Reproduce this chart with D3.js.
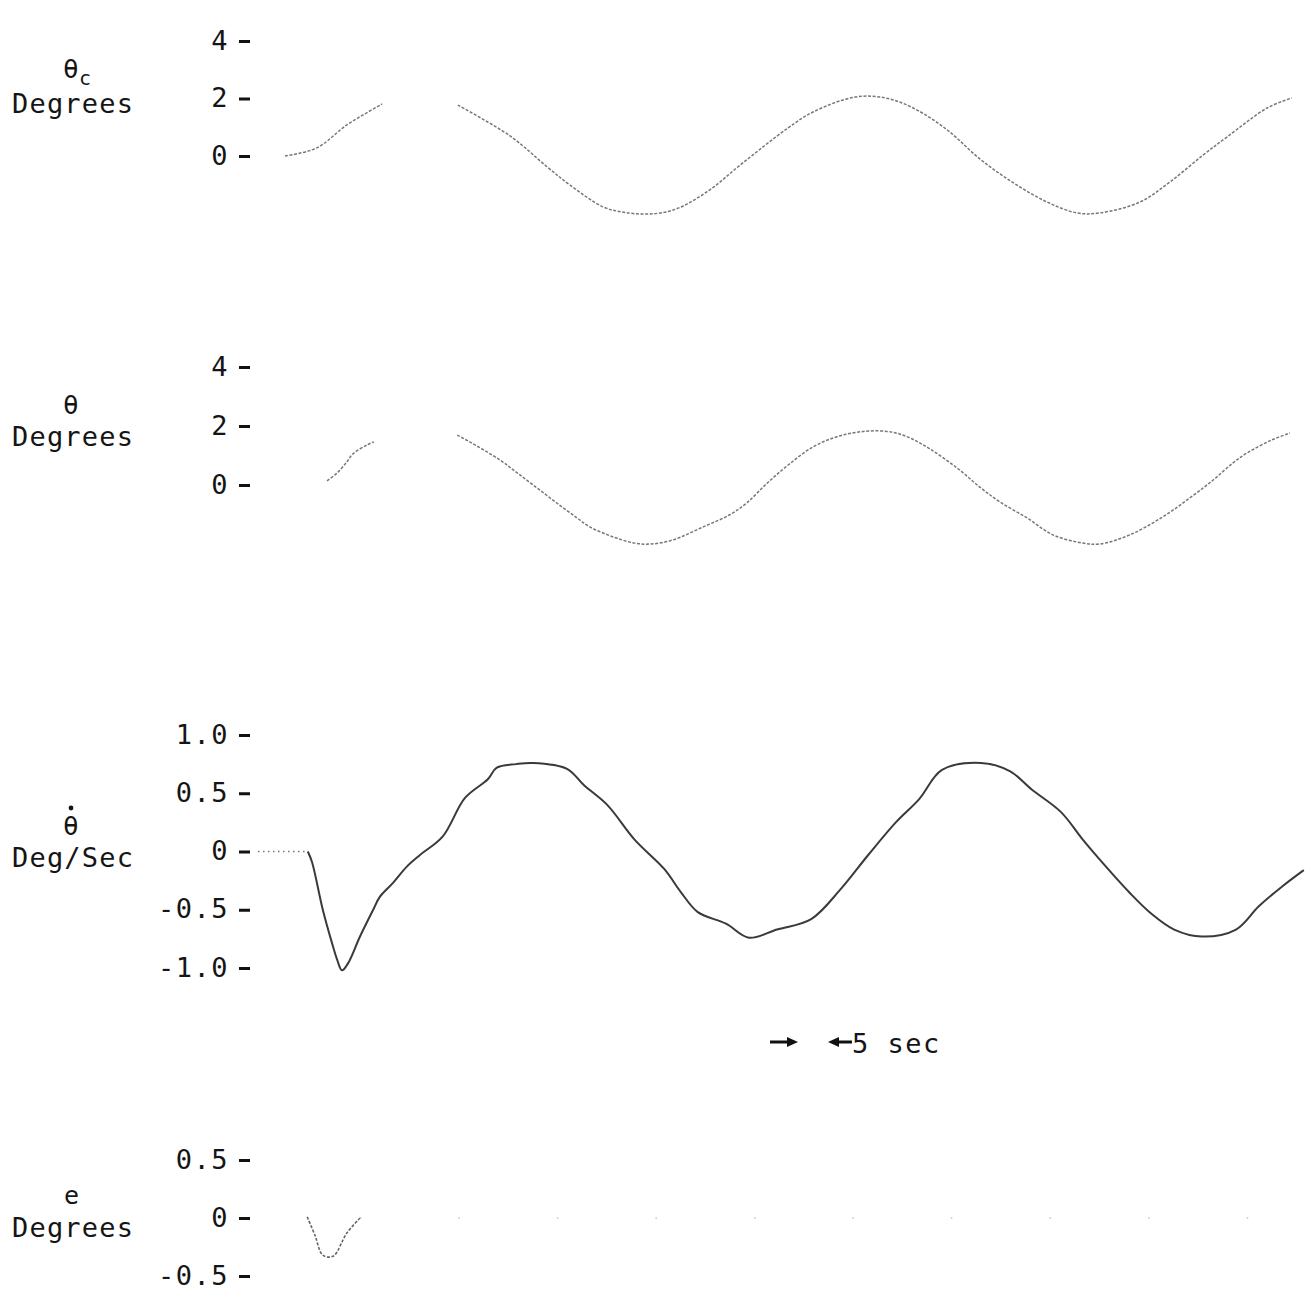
<!DOCTYPE html>
<html>
<head>
<meta charset="utf-8">
<script src="https://cdn.jsdelivr.net/npm/d3@7"></script>
<style>
body { margin: 0; background: #fff; }
svg text { font-family: "DejaVu Sans Mono", monospace; fill: #151515; }
</style>
</head>
<body>
<svg id="chart" width="1309" height="1292"></svg>
<script>
// time in seconds (null = trace missing)
var cmdTime = [0, 5.3, 10.3, 16.2, 22, 28.8, 37.5, 43.7, 47.5, 53.0, 56.3, 60.2, 64.7, 70.3, 76.3, 83.8, 88.0, 95.0, 100.0, 104.7, 110.3, 115.8, 121.3, 127.0, 132.0, 135.8, 142.5, 147.5, 153.0, 157.0, 163.7, 167.8];
var cmdDeg  = [0, 0.28, 1.08, 1.81, null, 1.77, 0.70, -0.38, -1.01, -1.77, -1.95, -2.02, -1.88, -1.25, -0.24, 0.97, 1.53, 2.05, 2.02, 1.67, 0.92, -0.10, -0.92, -1.60, -1.98, -1.98, -1.60, -0.90, 0.03, 0.66, 1.67, 2.02];

var thetaTime = [7.0, 8.7, 10.3, 11.3, 13.7, 14.8, 20, 28.7, 30.8, 35.8, 38.7, 42.0, 45.3, 48.7, 50.8, 54.7, 58.3, 61.0, 64.7, 69.7, 74.2, 77.0, 80.3, 83.7, 88.0, 92.2, 96.7, 101.0, 104.2, 107.5, 112.0, 115.8, 119.2, 123.7, 128.0, 133.0, 135.8, 140.8, 146.3, 150.8, 154.7, 158.0, 160.3, 164.5, 167.5];
var thetaDeg  = [0.14, 0.41, 0.78, 1.05, 1.36, 1.46, null, 1.69, 1.46, 0.85, 0.41, -0.10, -0.61, -1.12, -1.42, -1.76, -1.97, -2.0, -1.86, -1.42, -1.0, -0.6, 0.05, 0.65, 1.29, 1.65, 1.82, 1.80, 1.59, 1.22, 0.58, -0.07, -0.58, -1.12, -1.69, -1.97, -2.0, -1.69, -1.08, -0.44, 0.17, 0.75, 1.08, 1.53, 1.76];

var rateTime = [-4.5, 2.0, 3.8, 4.5, 6.3, 7.8, 8.7, 9.5, 10.5, 12.5, 14.7, 15.8, 18.0, 20.3, 22.5, 26.3, 30.0, 33.8, 35.3, 38.5, 41.3, 47.0, 49.8, 53.7, 58.3, 63.2, 66.0, 68.8, 73.5, 77.3, 82.0, 87.7, 92.5, 97.2, 101.8, 105.7, 109.5, 116.0, 120.8, 124.5, 129.3, 133.0, 135.8, 140.7, 144.3, 148.2, 152.8, 158.5, 162.3, 166.2, 169.8];
var rateDegSec = [0, 0, 0, -0.09, -0.50, -0.78, -0.93, -1.02, -0.96, -0.73, -0.50, -0.39, -0.27, -0.13, -0.03, 0.13, 0.46, 0.62, 0.72, 0.75, 0.76, 0.71, 0.57, 0.40, 0.10, -0.15, -0.35, -0.52, -0.62, -0.74, -0.67, -0.58, -0.33, -0.03, 0.25, 0.45, 0.70, 0.76, 0.69, 0.53, 0.34, 0.10, -0.07, -0.35, -0.53, -0.67, -0.73, -0.67, -0.47, -0.30, -0.16];
var rateStepTime = 3.8; // before this the trace is only a dotted baseline

var errTime = [3.7, 5.0, 6.3, 8.0, 10.3, 12.5, 40, 80, 120, 170];
var errDeg  = [0.01, -0.15, -0.32, -0.33, -0.13, 0, 0, 0, 0, 0];
var errVisibleUntil = 12.5; // trace fades out after the first dip

var tick4 = [4, 2, 0];
var tick4Labels = ["4", "2", "0"];
var tickRate = [1, 0.5, 0, -0.5, -1];
var tickRateLabels = ["1.0", "0.5", "0", "-0.5", "-1.0"];
var tickErr = [0.5, 0, -0.5];
var tickErrLabels = ["0.5", "0", "-0.5"];

var scaleBarStart = 85.5;  // the "5 sec" marker
var scaleBarLength = 5;

function zip(t, v) {
    var out = [];
    for (var i = 0; i < t.length; i++) out.push({t: t[i], v: v[i]});
    return out;
}

var svg = d3.select("#chart");
svg.append("rect").attr("width", 1309).attr("height", 1292).attr("fill", "#fff");

var x = d3.scaleLinear().domain([-5, 170]).range([255, 1305]);

var panels = [
    {sym: "θ", sub: "c", unit: "Degrees", domain: [0, 4], range: [156, 41], ticks: tick4, labels: tick4Labels,
     symY: 78, unitY: 113, data: zip(cmdTime, cmdDeg), stroke: "#777", width: 1.5, dash: "3,1.6"},
    {sym: "θ", sub: "", unit: "Degrees", domain: [0, 4], range: [485, 367], ticks: tick4, labels: tick4Labels,
     symY: 414, unitY: 446, data: zip(thetaTime, thetaDeg), stroke: "#777", width: 1.5, dash: "3,1.6"},
    {sym: "θ", sub: "", dot: true, unit: "Deg/Sec", domain: [-1, 1], range: [968, 735], ticks: tickRate, labels: tickRateLabels,
     symY: 835, unitY: 867, data: zip(rateTime, rateDegSec), stroke: "#3a3a3a", width: 2, dash: null},
    {sym: "e", sub: "", unit: "Degrees", domain: [-0.5, 0.5], range: [1276, 1160], ticks: tickErr, labels: tickErrLabels,
     symY: 1204, unitY: 1237, data: zip(errTime, errDeg), stroke: "#666", width: 1.6, dash: "3,1.6"}
];

panels.forEach(function(p, idx) {
    var y = d3.scaleLinear().domain(p.domain).range(p.range);

    // axis: short dash ticks with typewriter labels
    var ax = svg.append("g")
        .attr("transform", "translate(250,0)")
        .call(d3.axisLeft(y).tickValues(p.ticks)
            .tickFormat(function(d, i) { return p.labels[i]; })
            .tickSize(11).tickPadding(10));
    ax.select(".domain").remove();
    ax.selectAll(".tick line").attr("stroke", "#111").attr("stroke-width", 3);
    ax.selectAll(".tick text").attr("font-size", 27).attr("dy", "0.3em")
        .attr("letter-spacing", 1.5)
        .style("font-family", "'DejaVu Sans Mono', monospace").attr("fill", "#151515");

    // left label
    svg.append("text").attr("x", p.sym == "e" ? 64 : 63).attr("y", p.symY)
        .attr("font-size", p.sym == "e" ? 25 : 26).text(p.sym);
    if (p.sub) {
        svg.append("text").attr("x", 79).attr("y", p.symY + 7).attr("font-size", 20).text(p.sub);
    }
    if (p.dot) {
        svg.append("circle").attr("cx", 71).attr("cy", p.symY - 27).attr("r", 2.4).attr("fill", "#151515");
    }
    svg.append("text").attr("x", 12).attr("y", p.unitY).attr("font-size", 27)
        .attr("letter-spacing", 1.2).text(p.unit);

    var line = d3.line()
        .defined(function(d) { return d.v !== null; })
        .x(function(d) { return x(d.t); })
        .y(function(d) { return y(d.v); })
        .curve(d3.curveCatmullRom.alpha(0.5));

    var main = p.data;
    if (idx === 2) {
        var pre = p.data.filter(function(d) { return d.t <= rateStepTime; });
        main = p.data.filter(function(d) { return d.t >= rateStepTime; });
        svg.append("path").datum(pre).attr("d", line.curve(d3.curveLinear))
            .attr("fill", "none").attr("stroke", "#777").attr("stroke-width", 1.5)
            .attr("stroke-dasharray", "1.5,3.5");
        line.curve(d3.curveCatmullRom.alpha(0.5));
    }
    if (idx === 3) {
        var tail = p.data.filter(function(d) { return d.t >= errVisibleUntil; });
        main = p.data.filter(function(d) { return d.t <= errVisibleUntil; });
        svg.append("path").datum(tail).attr("d", line)
            .attr("fill", "none").attr("stroke", "#c4c4c4").attr("stroke-width", 1.5)
            .attr("stroke-dasharray", "1.5,97");
    }
    svg.append("path").datum(main).attr("d", line)
        .attr("fill", "none").attr("stroke", p.stroke).attr("stroke-width", p.width)
        .attr("stroke-dasharray", p.dash);
});

// "-> <- 5 sec" time marker
var ya = 1042;
var x1 = x(scaleBarStart), x2 = x(scaleBarStart + scaleBarLength);
svg.append("line").attr("x1", x1 - 28).attr("x2", x1 - 8).attr("y1", ya).attr("y2", ya)
    .attr("stroke", "#111").attr("stroke-width", 3);
svg.append("path").attr("d", "M" + x1 + "," + ya + "L" + (x1 - 11) + "," + (ya - 5) + "L" + (x1 - 11) + "," + (ya + 5) + "Z")
    .attr("fill", "#111");
svg.append("path").attr("d", "M" + x2 + "," + ya + "L" + (x2 + 11) + "," + (ya - 5) + "L" + (x2 + 11) + "," + (ya + 5) + "Z")
    .attr("fill", "#111");
svg.append("line").attr("x1", x2 + 8).attr("x2", x2 + 24).attr("y1", ya).attr("y2", ya)
    .attr("stroke", "#111").attr("stroke-width", 3);
svg.append("text").attr("x", x2 + 24).attr("y", 1053).attr("font-size", 27)
    .attr("letter-spacing", 1.5).text("5 sec");
</script>
</body>
</html>
